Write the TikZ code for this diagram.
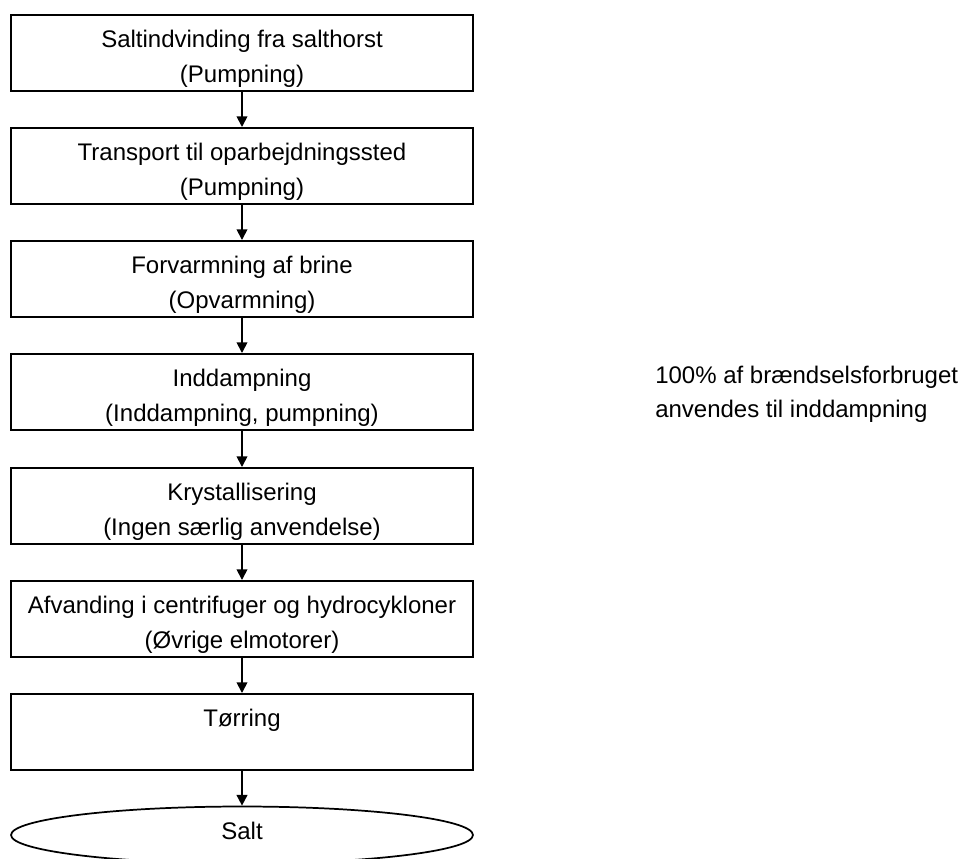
\documentclass[tikz,border=0pt]{standalone}
\usepackage{fontspec}
\setmainfont{Liberation Sans}
\usetikzlibrary{arrows.meta,shapes.geometric,calc}

\begin{document}
\begin{tikzpicture}[x=0.75pt,y=-0.75pt,
  stepbox/.style={draw, line width=1.3pt, minimum width=346.5pt, minimum height=57pt, inner sep=0pt, anchor=north},
  lbl/.style={inner sep=0pt, anchor=base, font=\fontsize{18pt}{22pt}\selectfont},
  flow/.style={-{Triangle[length=8pt,width=8pt]}, line width=1.3pt},
  endnode/.style={ellipse, draw, line width=1.3pt, minimum width=346.5pt, minimum height=42.75pt, inner sep=0pt}]
\useasboundingbox (0,0) rectangle (960,858);

% process steps
\node[stepbox] (b1) at (242,14) {};
\node[stepbox] (b2) at (242,127) {};
\node[stepbox] (b3) at (242,240) {};
\node[stepbox] (b4) at (242,353) {};
\node[stepbox] (b5) at (242,467) {};
\node[stepbox] (b6) at (242,580) {};
\node[stepbox] (b7) at (242,693) {};
\node[endnode] (salt) at (242,835) {};

% step texts: first line and the energy use in brackets
\node[lbl] (b1a) at ($(b1.north)+(0,33)$) {Saltindvinding fra salthorst};
\node[lbl] (b1b) at ($(b1.north)+(0,68)$) {(Pumpning)};
\node[lbl] (b2a) at ($(b2.north)+(0,33)$) {Transport til oparbejdningssted};
\node[lbl] (b2b) at ($(b2.north)+(0,68)$) {(Pumpning)};
\node[lbl] (b3a) at ($(b3.north)+(0,33)$) {Forvarmning af brine};
\node[lbl] (b3b) at ($(b3.north)+(0,68)$) {(Opvarmning)};
\node[lbl] (b4a) at ($(b4.north)+(0,33)$) {Inddampning};
\node[lbl] (b4b) at ($(b4.north)+(0,68)$) {(Inddampning, pumpning)};
\node[lbl] (b5a) at ($(b5.north)+(0,33)$) {Krystallisering};
\node[lbl] (b5b) at ($(b5.north)+(0,68)$) {(Ingen særlig anvendelse)};
\node[lbl] (b6a) at ($(b6.north)+(0,33)$) {Afvanding i centrifuger og hydrocykloner};
\node[lbl] (b6b) at ($(b6.north)+(0,68)$) {(Øvrige elmotorer)};
\node[lbl] (b7a) at ($(b7.north)+(0,33)$) {Tørring};
\node[lbl] (saltlbl) at (242,839) {Salt};

% side note
\node[lbl, anchor=base west] (note1) at (655,383) {100\% af brændselsforbruget};
\node[lbl, anchor=base west] (note2) at (655,417) {anvendes til inddampning};

% flow connectors
\draw[flow] (b1) -- (b2);
\draw[flow] (b2) -- (b3);
\draw[flow] (b3) -- (b4);
\draw[flow] (b4) -- (b5);
\draw[flow] (b5) -- (b6);
\draw[flow] (b6) -- (b7);
\draw[flow] (b7) -- (salt);
\end{tikzpicture}
\end{document}
